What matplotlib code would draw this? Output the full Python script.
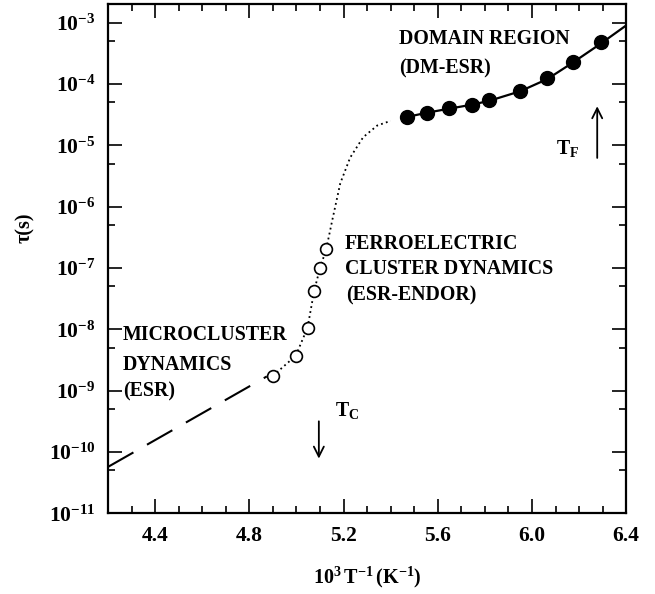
import numpy as np
import matplotlib
matplotlib.use("Agg")
import matplotlib.pyplot as plt
from matplotlib.ticker import MultipleLocator, LogLocator, FuncFormatter

plt.rcParams['font.family'] = ['Liberation Serif', 'DejaVu Serif']
plt.rcParams['font.weight'] = 'bold'
plt.rcParams['mathtext.fontset'] = 'custom'
plt.rcParams['mathtext.rm'] = 'Liberation Serif:bold'
plt.rcParams['mathtext.bf'] = 'Liberation Serif:bold'
plt.rcParams['mathtext.it'] = 'Liberation Serif:bold'

# domain region (DM-ESR), filled circles
dm_x = [5.47, 5.555, 5.648, 5.746, 5.818, 5.95, 6.065, 6.175, 6.294]
dm_tau = [2.9e-5, 3.4e-5, 4.0e-5, 4.5e-5, 5.4e-5, 7.8e-5, 1.23e-4, 2.3e-4, 4.9e-4]
# solid guide line through the filled circles
dm_line_x = [5.47, 5.555, 5.648, 5.746, 5.818, 5.95, 6.065, 6.175, 6.294, 6.4]
dm_line_tau = [2.9e-5, 3.4e-5, 3.95e-5, 4.6e-5, 5.3e-5, 7.6e-5, 1.2e-4, 2.25e-4, 4.6e-4, 9.0e-4]

# ferroelectric cluster dynamics (ESR-ENDOR), open circles
fe_x = [4.90, 4.997, 5.047, 5.075, 5.10, 5.126]
fe_tau = [1.74e-9, 3.7e-9, 1.06e-8, 4.2e-8, 1.0e-7, 2.0e-7]
# dotted connection up to the domain region
dot_x = [4.90, 4.997, 5.047, 5.075, 5.10, 5.126, 5.152, 5.186, 5.228, 5.283, 5.343, 5.40]
dot_tau = [1.74e-9, 3.7e-9, 1.06e-8, 4.2e-8, 1.0e-7, 2.0e-7, 6.0e-7, 2.4e-6, 6.3e-6, 1.35e-5, 2.1e-5, 2.5e-5]

# microcluster dynamics (ESR), dashed line
esr_x = [4.2, 4.874]
esr_tau = [5.7e-11, 1.7e-9]

fig = plt.figure(figsize=(6.55, 5.94), dpi=100)
ax = fig.add_axes([0.165, 0.136, 0.791, 0.857])

ax.plot(esr_x, esr_tau, color='black', lw=1.5, linestyle=(0, (14, 7.5)))
ax.plot(dot_x, dot_tau, color='black', lw=1.3, linestyle=(0, (1, 1.8)))
ax.plot(fe_x, fe_tau, 'o', ms=8.5, mfc='white', mec='black', mew=1.2)
ax.plot(dm_line_x, dm_line_tau, color='black', lw=1.6)
ax.plot(dm_x, dm_tau, 'o', ms=10, color='black')

ax.set_yscale('log')
ax.set_xlim(4.2, 6.4)
ax.set_ylim(1e-11, 2e-3)

ax.xaxis.set_major_locator(MultipleLocator(0.4))
ax.xaxis.set_minor_locator(MultipleLocator(0.1))
ax.xaxis.set_major_formatter(FuncFormatter(lambda v, p: '%.1f' % v))
ax.yaxis.set_major_locator(LogLocator(base=10, numticks=20))
ax.yaxis.set_minor_locator(LogLocator(base=10, subs=[5.0], numticks=20))
ax.yaxis.set_major_formatter(FuncFormatter(lambda v, p: r'$\mathbf{10^{%d}}$' % round(np.log10(v))))

ax.tick_params(which='both', direction='in', top=True, right=True, width=1.2, labelsize=15.5)
ax.tick_params(which='major', length=10, pad=9)
ax.tick_params(which='minor', length=5)
for s in ax.spines.values():
    s.set_linewidth(1.6)

ax.set_xlabel(r'$\mathbf{10^3\,T^{-1}\,(K^{-1})}$', fontsize=14.5, labelpad=14)
ax.set_ylabel('τ(s)', fontsize=14.5, fontweight='bold')
ax.yaxis.set_label_coords(-0.14, 0.56)

fs = 14.3
ax.text(5.436, 5.5e-4, 'DOMAIN REGION', fontsize=fs, fontweight='bold', va='center')
ax.text(5.436, 1.8e-4, '(DM-ESR)', fontsize=fs, fontweight='bold', va='center')
ax.text(5.205, 2.5e-7, 'FERROELECTRIC', fontsize=fs, fontweight='bold', va='center')
ax.text(5.205, 9.5e-8, 'CLUSTER DYNAMICS', fontsize=fs, fontweight='bold', va='center')
ax.text(5.21, 3.6e-8, '(ESR-ENDOR)', fontsize=fs, fontweight='bold', va='center')
ax.text(4.264, 8.1e-9, 'MICROCLUSTER', fontsize=fs, fontweight='bold', va='center')
ax.text(4.264, 2.6e-9, 'DYNAMICS', fontsize=fs, fontweight='bold', va='center')
ax.text(4.264, 9.6e-10, '(ESR)', fontsize=fs, fontweight='bold', va='center')

ax.annotate('', xy=(5.095, 7.0e-11), xytext=(5.095, 3.5e-10),
            arrowprops=dict(arrowstyle='->', lw=1.3, color='black', mutation_scale=18))
ax.text(5.164, 4.8e-10, r'$\mathbf{T_C}$', fontsize=fs, va='center')
ax.annotate('', xy=(6.277, 4.8e-5), xytext=(6.277, 5.6e-6),
            arrowprops=dict(arrowstyle='->', lw=1.3, color='black', mutation_scale=18))
ax.text(6.10, 8.9e-6, r'$\mathbf{T_F}$', fontsize=fs, va='center')

plt.savefig('out.png', dpi=100)
